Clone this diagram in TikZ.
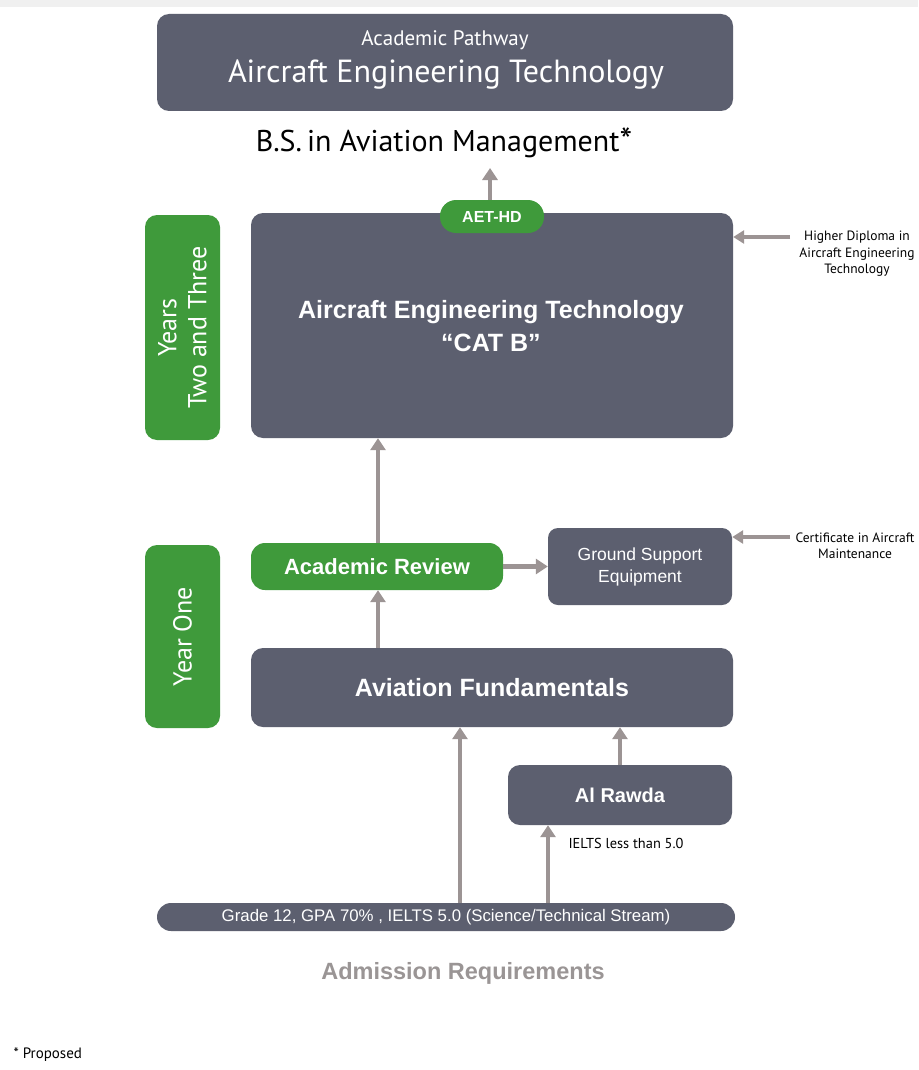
\documentclass[tikz,border=0pt]{standalone}
\usepackage{fontspec}
\setmainfont{PT Sans}
\newfontfamily\arialf{Liberation Sans}
\usetikzlibrary{arrows.meta}
\definecolor{slate}{HTML}{5C5F6F}
\definecolor{leaf}{HTML}{3F9A3B}
\definecolor{flow}{HTML}{9C9494}
\definecolor{caption}{HTML}{9A9595}
\begin{document}
\begin{tikzpicture}[x=1pt,y=-1pt,
  darkbox/.style={fill=slate,rounded corners=12pt,text=white,align=center,inner sep=0pt},
  greenbox/.style={fill=leaf,rounded corners=12pt,text=white,align=center,inner sep=0pt},
  pill/.style={fill=leaf,rounded corners=16pt,text=white,inner sep=0pt},
  flowarrow/.style={draw=flow,line width=4.5pt,-{Triangle[width=15pt,length=12pt]}},
  sidearrow/.style={flowarrow,line width=4pt,-{Triangle[width=13pt,length=11pt]}},
  noteline/.style={font=\fontsize{13.5}{16.5}\selectfont,align=center,inner sep=0pt}]
\useasboundingbox (0,0) rectangle (918,1070);
\fill[white] (0,0) rectangle (918,1070);
\fill[black!6] (0,0) rectangle (918,7);

% heading
\node[darkbox,minimum width=576pt,minimum height=97pt] (top) at (445,62.5) {};
\node[text=white,font=\fontsize{21}{24}\selectfont] (topsub) at (445,40) {Academic Pathway};
\node[text=white,font=\fontsize{32}{36}\selectfont] (toptitle) at (446,75) {Aircraft Engineering Technology};
\node[font=\fontsize{30}{34}\selectfont] (bs) at (444,143) {B.S.\,in Aviation Management\raisebox{-2pt}{\fontsize{36}{36}\selectfont*}};

% years two and three
\node[darkbox,minimum width=482pt,minimum height=225pt] (catb) at (492,325.5) {};
\node[text=white,font=\arialf\bfseries\fontsize{25}{33}\selectfont,align=center] (catbtxt) at (491,326) {Aircraft Engineering Technology\\“CAT B”};
\node[pill,minimum width=104pt,minimum height=33pt,font=\arialf\bfseries\fontsize{16}{18}\selectfont] (aethd) at (492,216.5) {AET-HD};
\coordinate (bsfoot) at (490,168);
\draw[flowarrow] (aethd.north -| bsfoot) -- (bsfoot);

\node[greenbox,minimum width=75pt,minimum height=225pt] (yrs23) at (182.5,327.5) {};
\node[rotate=90,text=white,align=center,font=\fontsize{26}{30}\selectfont] at (yrs23.center) {Years\\Two and Three};

% year one
\node[greenbox,minimum width=75pt,minimum height=183pt] (yr1) at (182.5,636.5) {};
\node[rotate=90,text=white,font=\fontsize{26}{30}\selectfont] at (yr1.center) {Year One};

\node[pill,rounded corners=14pt,minimum width=252pt,minimum height=47pt,font=\arialf\bfseries\fontsize{22}{24}\selectfont] (review) at (377,566.5) {Academic Review};
\node[darkbox,rounded corners=10pt,minimum width=184pt,minimum height=77pt,font=\arialf\fontsize{17.5}{22}\selectfont] (gse) at (640,566.5) {Ground Support\\Equipment};
\node[darkbox,minimum width=482pt,minimum height=79pt,font=\arialf\bfseries\fontsize{25}{28}\selectfont] (fund) at (492,687.5) {Aviation Fundamentals};
\node[darkbox,minimum width=224pt,minimum height=60pt,font=\arialf\bfseries\fontsize{20}{22}\selectfont] (rawda) at (620,795) {Al Rawda};

% admission
\node[fill=slate,rounded corners=14pt,minimum width=578pt,minimum height=28pt,inner sep=0pt,text=white,font=\arialf\fontsize{16.8}{19}\selectfont] (adm) at (446,917) {Grade 12, GPA 70\% , IELTS 5.0 (Science/Technical Stream)};
\node[text=caption,font=\arialf\bfseries\fontsize{23.5}{26}\selectfont] (admcap) at (463,973) {Admission Requirements};

% flow between stages
\draw[flowarrow] (review.north -| 378,0) -- (catb.south -| 378,0);
\draw[flowarrow] (review.east) -- (gse.west);
\draw[flowarrow] (fund.north -| 378,0) -- (review.south -| 378,0);
\draw[flowarrow] (adm.north -| 460,0) -- (fund.south -| 460,0);
\draw[flowarrow] (rawda.north) -- (fund.south -| rawda.north);
\draw[flowarrow] (adm.north -| 548,0) -- (rawda.south -| 548,0);
\node[anchor=west,font=\fontsize{14.4}{16}\selectfont] (ielts) at (565,843) {IELTS less than 5.0};

% side notes
\node[noteline] (hd) at (857,254) {Higher Diploma in\\Aircraft Engineering\\Technology};
\draw[sidearrow] (790,237) -- (catb.east |- 0,237);
\node[noteline] (cert) at (855,546) {Certificate in Aircraft\\Maintenance};
\draw[sidearrow] (790,537) -- (gse.east |- 0,537);

\node[anchor=west,font=\fontsize{15}{17}\selectfont] (proposed) at (10,1055) {* Proposed};
\end{tikzpicture}
\end{document}
